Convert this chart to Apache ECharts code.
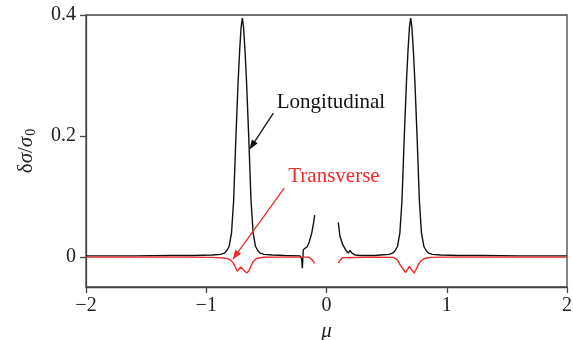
<!DOCTYPE html>
<html><head><meta charset="utf-8">
<script src="https://cdn.jsdelivr.net/npm/echarts@6/dist/echarts.min.js"></script>
<style>html,body{margin:0;padding:0;background:#fff}#c{width:573px;height:340px}</style>
</head><body><div id="c"></div>
<script>
// ---- data ----
const xTicks = [-2, -1, 0, 1, 2];
const yTicks = [0, 0.2, 0.4];

const longitudinalLeft = [
  [-2.0,0.0015],[-1.6,0.0015],[-1.3,0.002],[-1.1,0.002],[-0.95,0.003],[-0.88,0.004],[-0.85,0.006],
  [-0.83,0.010],[-0.81,0.017],[-0.79,0.039],[-0.772,0.094],[-0.753,0.2],[-0.735,0.29],[-0.722,0.342],
  [-0.71,0.38],[-0.70,0.395],[-0.69,0.38],[-0.678,0.342],[-0.665,0.29],[-0.647,0.2],[-0.628,0.094],
  [-0.61,0.039],[-0.59,0.017],[-0.57,0.010],[-0.55,0.006],[-0.52,0.004],[-0.45,0.003],[-0.35,0.002],
  [-0.22,0.0015],[-0.206,-0.004],[-0.201,-0.019],[-0.193,0.0116],[-0.179,0.0127],[-0.16,0.017],
  [-0.143,0.025],[-0.123,0.039],[-0.11,0.053],[-0.098,0.069]
];
const longitudinalRight = [
  [0.098,0.057],[0.112,0.034],[0.135,0.020],[0.162,0.0105],[0.181,0.006],[0.195,0.0105],[0.212,0.006],
  [0.237,0.003],[0.28,0.002],[0.4,0.002],[0.45,0.003],[0.52,0.004],[0.55,0.006],[0.57,0.010],[0.59,0.017],
  [0.61,0.039],[0.628,0.094],[0.647,0.2],[0.665,0.29],[0.678,0.342],[0.69,0.38],[0.70,0.395],[0.71,0.38],
  [0.722,0.342],[0.735,0.29],[0.753,0.2],[0.772,0.094],[0.79,0.039],[0.81,0.017],[0.83,0.010],[0.85,0.006],
  [0.88,0.004],[0.95,0.003],[1.1,0.002],[1.3,0.002],[1.6,0.0015],[2.0,0.0015]
];
const transverseLeft = [
  [-2,-0.0005],[-1.2,-0.0005],[-0.95,-0.001],[-0.86,-0.002],[-0.82,-0.003],[-0.795,-0.006],[-0.775,-0.0105],
  [-0.76,-0.016],[-0.742,-0.024],[-0.714,-0.017],[-0.664,-0.027],[-0.645,-0.023],[-0.625,-0.014],
  [-0.609,-0.0077],[-0.59,-0.004],[-0.567,-0.002],[-0.52,-0.0008],[-0.4,-0.0005],[-0.151,-0.0005],
  [-0.135,-0.002],[-0.123,-0.004],[-0.11,-0.0075],[-0.10,-0.011]
];
const transverseRight = [
  [0.098,-0.0105],[0.108,-0.007],[0.118,-0.004],[0.132,-0.0015],[0.146,-0.0005],[0.4,-0.0005],[0.556,-0.001],
  [0.59,-0.005],[0.611,-0.013],[0.658,-0.026],[0.689,-0.016],[0.728,-0.027],[0.745,-0.021],[0.763,-0.013],
  [0.785,-0.007],[0.805,-0.004],[0.83,-0.002],[0.86,-0.001],[1.0,-0.0005],[2.0,-0.0005]
];

// annotation anchors in data coordinates
const longLabel = {text: 'Longitudinal', at: [-0.414, 0.2545], from: [-0.442, 0.2375], to: [-0.642, 0.177]};
const transLabel = {text: 'Transverse', at: [-0.318, 0.1334], from: [-0.351, 0.1136], to: [-0.783, -0.005]};

const BLACK = '#111111', RED = '#ee2a2a', AXIS = '#444444';
const FONT = 'Liberation Serif';

const chart = echarts.init(document.getElementById('c'));
const lineSeries = (data, color) => ({
  type: 'line', data, showSymbol: false, symbol: 'none', smooth: false,
  lineStyle: {color, width: 1.4}, animation: false, z: color === RED ? 3 : 2
});
chart.setOption({
  animation: false,
  grid: {left: 86, right: 6, top: 15, bottom: 53, containLabel: false, outerBoundsMode: 'none',
    show: true, borderColor: AXIS, borderWidth: 1.3, backgroundColor: 'transparent'},
  xAxis: {
    type: 'value', min: -2, max: 2, interval: 1,
    name: 'μ', nameLocation: 'middle', nameGap: 26,
    nameTextStyle: {fontFamily: FONT, fontSize: 21, fontStyle: 'italic', color: '#222'},
    axisLine: {onZero: false, lineStyle: {color: AXIS, width: 1.3}},
    axisTick: {length: 6, lineStyle: {color: AXIS, width: 1.3}},
    axisLabel: {margin: 9, fontFamily: FONT, fontSize: 20, color: '#222',
      formatter: v => v < 0 ? '\u2212' + Math.abs(v) : String(v)},
    splitLine: {show: false}
  },
  yAxis: {
    type: 'value', min: -0.05, max: 0.4, interval: 0.05,
    name: '{a|δ}{b|σ}{a|/}{b|σ}{s|0}', nameLocation: 'middle', nameGap: 48,
    nameTextStyle: {
      rich: {
        a: {fontFamily: FONT, fontSize: 21, color: '#222'},
        b: {fontFamily: FONT, fontSize: 21, fontStyle: 'italic', color: '#222'},
        s: {fontFamily: FONT, fontSize: 14, color: '#222', padding: [10, 0, 0, 1]}
      }
    },
    axisLine: {onZero: false, lineStyle: {color: AXIS, width: 1.3}},
    axisTick: {length: 6, customValues: yTicks, lineStyle: {color: AXIS, width: 1.3}},
    axisLabel: {margin: 10, customValues: yTicks, fontFamily: FONT, fontSize: 20, color: '#222'},
    splitLine: {show: false}
  },
  series: [
    lineSeries(longitudinalLeft, BLACK),
    lineSeries(longitudinalRight, BLACK),
    lineSeries(transverseLeft, RED),
    lineSeries(transverseRight, RED)
  ]
});

function arrow(a, color) {
  const p0 = chart.convertToPixel({gridIndex: 0}, a.from);
  const p1 = chart.convertToPixel({gridIndex: 0}, a.to);
  const dx = p1[0] - p0[0], dy = p1[1] - p0[1];
  const L = Math.hypot(dx, dy), ux = dx / L, uy = dy / L;
  const hl = 10, hw = 3.5;
  const bx = p1[0] - ux * hl, by = p1[1] - uy * hl;
  return [
    {type: 'line', shape: {x1: p0[0], y1: p0[1], x2: bx + ux * 2, y2: by + uy * 2}, style: {stroke: color, lineWidth: 1.3}, z: 10},
    {type: 'polygon', shape: {points: [[p1[0], p1[1]], [bx - uy * hw, by + ux * hw], [bx + uy * hw, by - ux * hw]]}, style: {fill: color}, z: 10}
  ];
}
function label(a, color) {
  const p = chart.convertToPixel({gridIndex: 0}, a.at);
  return {type: 'text', x: p[0], y: p[1], style: {text: a.text, fill: color, font: '21px "' + FONT + '"', align: 'left', verticalAlign: 'middle'}, z: 10};
}
chart.setOption({graphic: [
  label(longLabel, BLACK), ...arrow(longLabel, BLACK),
  label(transLabel, RED), ...arrow(transLabel, RED)
]});
</script></body></html>
